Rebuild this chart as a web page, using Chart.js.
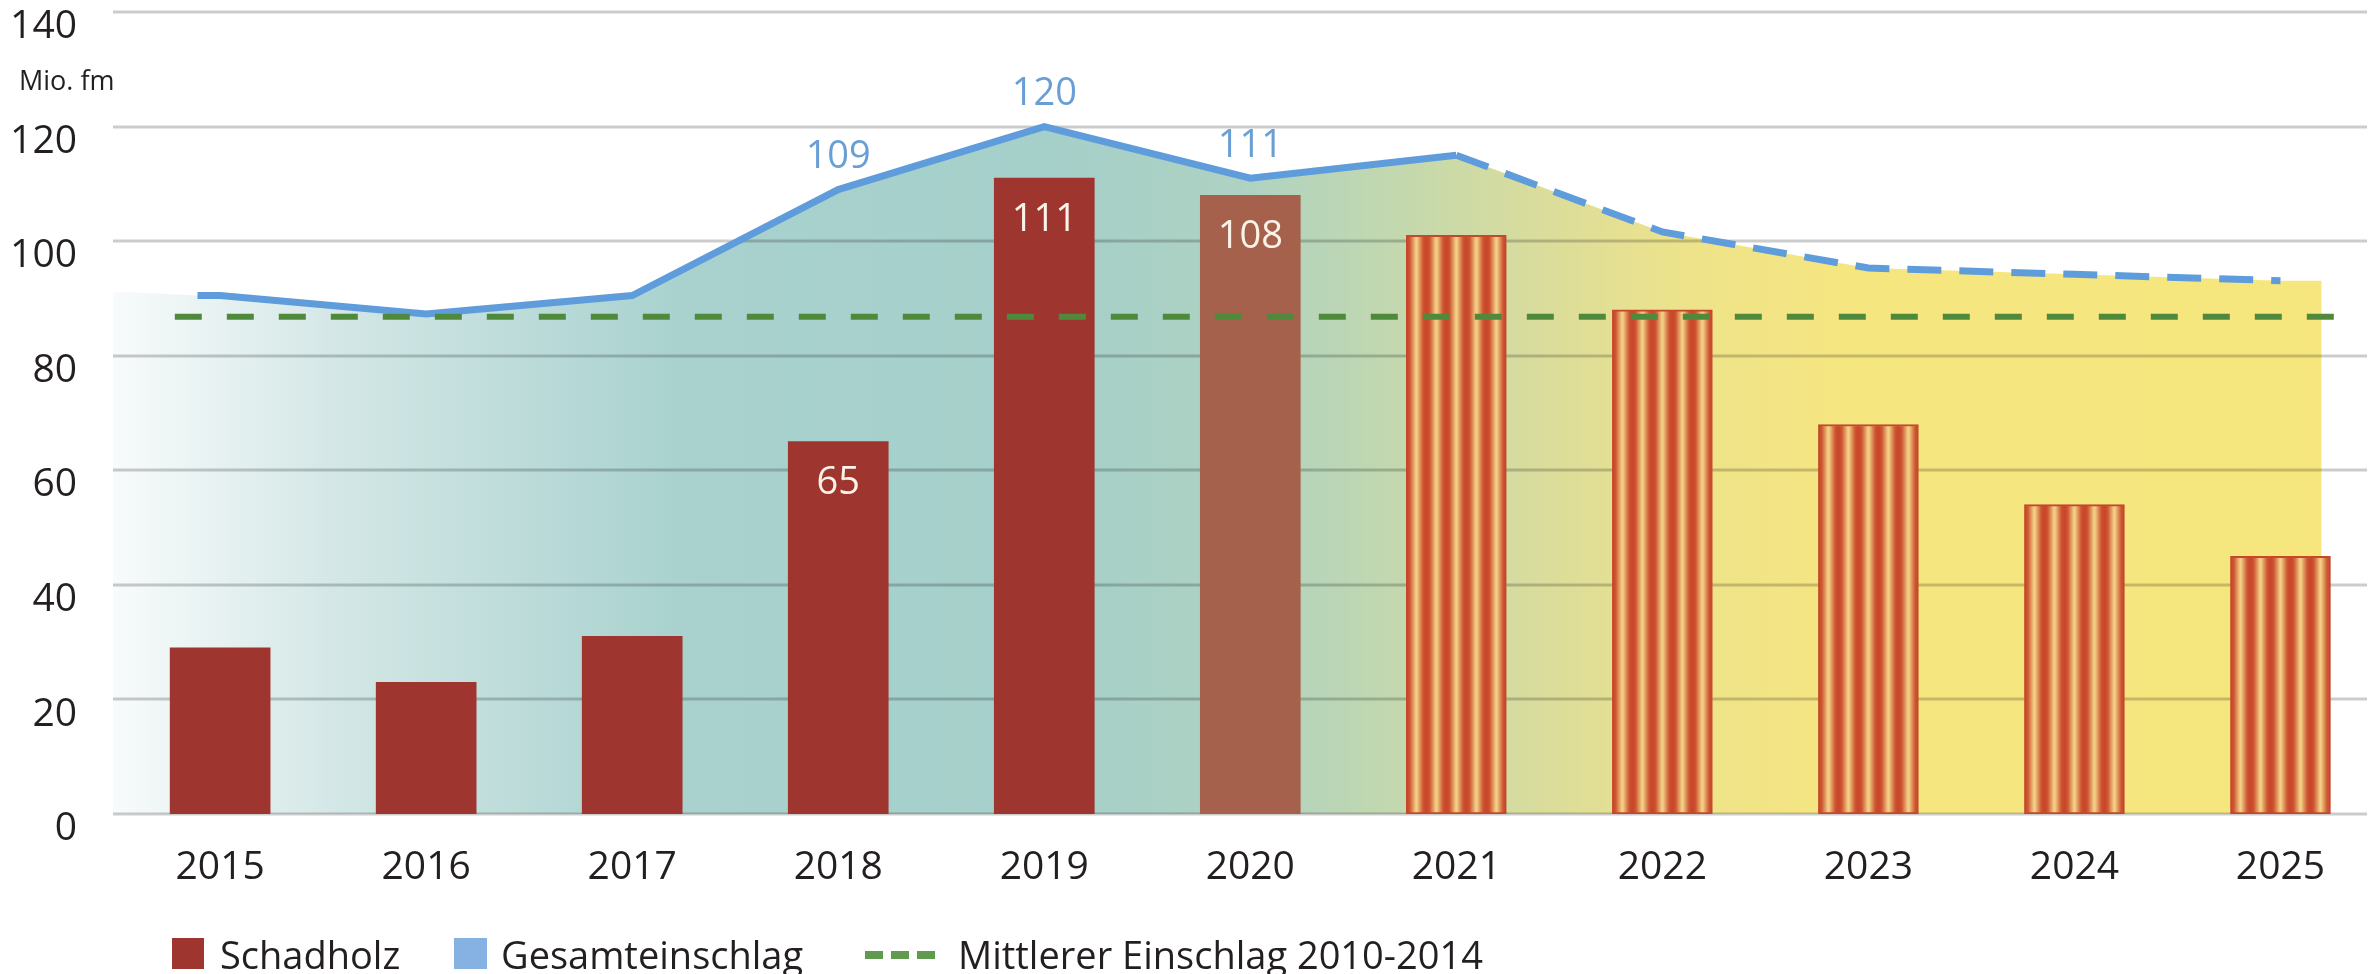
<!DOCTYPE html>
<html><head><meta charset="utf-8">
<script src="https://cdn.jsdelivr.net/npm/chart.js@4/dist/chart.umd.min.js"></script>
<style>
html,body{margin:0;padding:0;background:#fff;}
#wrap{position:relative;width:2379px;height:974px;overflow:hidden;font-family:"Open Sans",sans-serif;color:#231f20;}
canvas{position:absolute;left:0;top:0;}
.unit{position:absolute;left:19px;top:62px;font-size:27px;line-height:36px;white-space:nowrap;}
.lg{position:absolute;top:930px;font-size:38px;line-height:48px;white-space:nowrap;}
.sw{position:absolute;}
</style></head>
<body>
<div id="wrap">
<canvas id="c" width="2379" height="974"></canvas>
<div class="unit" id="unit"></div>
</div>
<script>
// ---- data ----
const years = [2015, 2016, 2017, 2018, 2019, 2020, 2021, 2022, 2023, 2024, 2025];
const schadholz = [29, 23, 31, 65, 111, 108, 101, 88, 68, 54, 45];
const gesamteinschlag = [90.5, 87.3, 90.5, 109, 120, 111, 115, 101.6, 95.3, 94.2, 93.1];
const schadholzLabels = ['', '', '', '65', '111', '108', '', '', '', '', ''];
const gesamtLabels = ['', '', '', '109', '120', '111', '', '', '', '', ''];
const gesamtLineStart = 2014.89;           // line begins slightly left of 2015
const areaStartEnd = [2014.48, 2025.2];    // extent of the shaded band
const areaEdgeValues = [91.2, 93.1];
const meanValue = 86.8;                    // Mittlerer Einschlag 2010-2014
const meanExtent = [2014.78, 2025.32];
const provisionalYear = 2020;
const forecastFrom = 2021;
const yTicks = [0, 20, 40, 60, 80, 100, 120, 140];
const unitLabel = 'Mio. fm';
const legendLabels = ['Schadholz', 'Gesamteinschlag', 'Mittlerer Einschlag 2010-2014'];

// ---- helpers ----
document.getElementById('unit').textContent = unitLabel;
const FONT = '"Open Sans", sans-serif';

function stripePattern(ctx, offsetX) {
  const c = document.createElement('canvas');
  c.width = 20; c.height = 4;
  const g = c.getContext('2d');
  const gr = g.createLinearGradient(0, 0, 20, 0);
  gr.addColorStop(0, '#c8452a');
  gr.addColorStop(0.16, '#cd5430');
  gr.addColorStop(0.5, '#f6d98d');
  gr.addColorStop(0.84, '#cd5430');
  gr.addColorStop(1, '#c8452a');
  g.fillStyle = gr; g.fillRect(0, 0, 20, 4);
  const p = ctx.createPattern(c, 'repeat');
  if (p.setTransform) p.setTransform(new DOMMatrix().translate(offsetX, 0));
  return p;
}

const linePoints = [{x: gesamtLineStart, y: gesamteinschlag[0]}]
  .concat(years.map((y, i) => ({x: y, y: gesamteinschlag[i]})));
const areaData = [{x: areaStartEnd[0], y: areaEdgeValues[0]}]
  .concat(linePoints)
  .concat([{x: areaStartEnd[1], y: areaEdgeValues[1]}]);

const gridPlugin = {
  id: 'gridOverArea',
  afterDatasetDraw(chart, args) {
    if (args.index !== 0) return;
    const y = chart.scales.y, ca = chart.chartArea, ctx = chart.ctx;
    ctx.save();
    ctx.strokeStyle = 'rgba(0,0,0,0.2)';
    ctx.lineWidth = 3;
    y.ticks.forEach(t => {
      const py = Math.round(y.getPixelForValue(t.value));
      ctx.beginPath(); ctx.moveTo(ca.left, py); ctx.lineTo(ca.right, py); ctx.stroke();
    });
    ctx.restore();
  }
};

const labelPlugin = {
  id: 'valueLabels',
  afterDatasetsDraw(chart) {
    const ctx = chart.ctx;
    ctx.save();
    ctx.font = '38px ' + FONT;
    ctx.textAlign = 'center';
    ctx.textBaseline = 'middle';
    const barMeta = chart.getDatasetMeta(1);
    barMeta.data.forEach((el, i) => {
      if (!schadholzLabels[i]) return;
      ctx.fillStyle = '#fbf3e8';
      ctx.fillText(schadholzLabels[i], el.x, el.y + 42);
    });
    const lineMeta = chart.getDatasetMeta(2);
    lineMeta.data.slice(1).forEach((el, i) => {
      if (!gesamtLabels[i]) return;
      ctx.fillStyle = '#6a9fd6';
      ctx.fillText(gesamtLabels[i], el.x, el.y - 32);
    });
    ctx.restore();
  }
};

Chart.defaults.font.family = FONT;
Chart.defaults.color = '#231f20';

const chart = new Chart(document.getElementById('c'), {
  data: {
    datasets: [
      {
        type: 'line', label: 'area', order: 4,
        data: areaData,
        fill: 'origin', borderWidth: 0, pointRadius: 0, tension: 0,
        backgroundColor: (ctx) => {
          const ca = ctx.chart.chartArea;
          if (!ca) return 'rgba(0,0,0,0)';
          const g = ctx.chart.ctx.createLinearGradient(ca.left, 0, ca.right, 0);
          g.addColorStop(0, '#f8fbfb');
          g.addColorStop(0.10, '#d3e7e6');
          g.addColorStop(0.25, '#a9d2cf');
          g.addColorStop(0.42, '#a5cfc9');
          g.addColorStop(0.50, '#aed2c2');
          g.addColorStop(0.57, '#c3d8ae');
          g.addColorStop(0.64, '#dcdd9a');
          g.addColorStop(0.70, '#eee38a');
          g.addColorStop(0.77, '#f6e680');
          g.addColorStop(1, '#f7e67e');
          return g;
        }
      },
      {
        type: 'bar', label: legendLabels[0], order: 3,
        data: years.map((y, i) => ({x: y, y: schadholz[i]})),
        barThickness: 100,
        backgroundColor: (ctx) => {
          const yr = years[ctx.dataIndex];
          if (yr >= forecastFrom) {
            const xs = ctx.chart.scales.x;
            const left = xs ? xs.getPixelForValue(yr) - 50 : 0;
            return stripePattern(ctx.chart.ctx, left);
          }
          if (yr === provisionalYear) return '#a6614d';
          return '#9e352f';
        },
        borderColor: '#c5482b',
        borderWidth: (ctx) => years[ctx.dataIndex] >= forecastFrom ? 2 : 0,
        borderSkipped: false
      },
      {
        type: 'line', label: legendLabels[1], order: 2,
        data: linePoints,
        borderColor: '#5f9cdc', borderWidth: 7, pointRadius: 0, fill: false, tension: 0,
        segment: {
          borderDash: (ctx) => ctx.p0.parsed.x >= forecastFrom ? [34, 18] : undefined
        }
      },
      {
        type: 'line', label: legendLabels[2], order: 1,
        data: meanExtent.map(x => ({x: x, y: meanValue})),
        borderColor: '#4f8a3c', borderWidth: 6, borderDash: [27, 25], pointRadius: 0, fill: false
      }
    ]
  },
  options: {
    responsive: false,
    devicePixelRatio: 1,
    animation: false,
    layout: {padding: {left: 0, right: 12, top: 12, bottom: 80}},
    plugins: {legend: {display: false}, tooltip: {enabled: false}},
    scales: {
      x: {
        type: 'linear',
        min: 2014.48, max: 2025.42,
        offset: false,
        grid: {display: false, drawTicks: false, offset: false},
        border: {display: false},
        ticks: {
          font: {size: 39, family: FONT}, color: '#231f20', padding: 30,
          callback: (v) => String(v), maxRotation: 0, autoSkip: false
        },
        afterBuildTicks: (s) => { s.ticks = years.map(v => ({value: v})); },
        afterFit: (s) => { s.height = 80; s.paddingLeft = 0; s.paddingRight = 0; }
      },
      y: {
        min: 0, max: 140,
        grid: {display: false, drawTicks: false},
        border: {display: false},
        ticks: {
          font: {size: 39, family: FONT}, color: '#231f20', padding: 36, labelOffset: 15,
          callback: (v) => String(v)
        },
        afterBuildTicks: (s) => { s.ticks = yTicks.map(v => ({value: v})); },
        afterFit: (s) => { s.width = 113; s.paddingTop = 0; s.paddingBottom = 0; }
      }
    }
  },
  plugins: [gridPlugin, labelPlugin]
});

// ---- HTML legend ----
const wrap = document.getElementById('wrap');
function add(html) { const d = document.createElement('div'); d.innerHTML = html; wrap.appendChild(d.firstChild); }
add('<div class="sw" style="left:172px;top:938px;width:32px;height:31px;background:#9e352f"></div>');
add('<div class="lg" style="left:220px">' + legendLabels[0] + '</div>');
add('<div class="sw" style="left:454px;top:938px;width:33px;height:31px;background:#85b1e3"></div>');
add('<div class="lg" style="left:501px">' + legendLabels[1] + '</div>');
add('<div class="sw" style="left:865px;top:951px;width:18px;height:8px;background:#5f9a4f"></div>');
add('<div class="sw" style="left:891px;top:951px;width:18px;height:8px;background:#5f9a4f"></div>');
add('<div class="sw" style="left:917px;top:951px;width:18px;height:8px;background:#5f9a4f"></div>');
add('<div class="lg" style="left:958px">' + legendLabels[2] + '</div>');
</script>
</body></html>
